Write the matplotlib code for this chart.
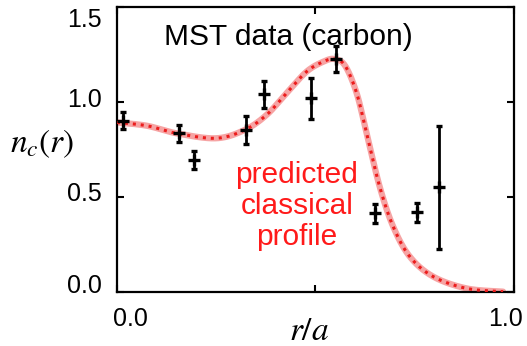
import matplotlib
matplotlib.use("Agg")
import matplotlib.pyplot as plt
import matplotlib.transforms as mtransforms
import numpy as np

plt.rcParams['font.family'] = ['Liberation Sans', 'DejaVu Sans']
plt.rcParams['mathtext.fontset'] = 'stix'

# predicted classical profile
curve_r = [0.0, 0.075, 0.15, 0.25, 0.322, 0.377, 0.427, 0.478, 0.520, 0.548,
           0.575, 0.604, 0.629, 0.662, 0.696, 0.738, 0.797, 0.881, 0.973]
curve_n = [0.892, 0.875, 0.835, 0.809, 0.853, 0.932, 1.046, 1.16, 1.212, 1.226,
           1.19, 1.046, 0.835, 0.554, 0.344, 0.186, 0.081, 0.019, 0.002]

# MST carbon measurements
data_r = [0.016, 0.155, 0.193, 0.324, 0.370, 0.490, 0.553, 0.650, 0.755, 0.811]
data_n = [0.902, 0.835, 0.695, 0.853, 1.040, 1.019, 1.225, 0.414, 0.419, 0.551]
data_err = [0.046, 0.046, 0.048, 0.074, 0.070, 0.107, 0.068, 0.050, 0.048, 0.325]

x_ticks = [0.0, 0.5, 1.0]
x_ticklabels = ['0.0', '', '1.0']
y_ticks = [0.0, 0.5, 1.0, 1.5]
y_ticklabels = ['0.0', '0.5', '1.0', '1.5']


def catmull_rom(xs, ys, n=30):
    # simple Catmull-Rom spline through the read points
    px = np.r_[xs[0], xs, xs[-1]]
    py = np.r_[ys[0], ys, ys[-1]]
    outx, outy = [], []
    t = np.linspace(0, 1, n, endpoint=False)
    for i in range(1, len(px) - 2):
        for p, out in ((px, outx), (py, outy)):
            p0, p1, p2, p3 = p[i - 1], p[i], p[i + 1], p[i + 2]
            out.extend(0.5 * ((2 * p1) + (-p0 + p2) * t +
                              (2 * p0 - 5 * p1 + 4 * p2 - p3) * t ** 2 +
                              (-p0 + 3 * p1 - 3 * p2 + p3) * t ** 3))
    outx.append(xs[-1])
    outy.append(ys[-1])
    return np.array(outx), np.array(outy)


fig = plt.figure(figsize=(5.27, 3.46), dpi=100)
ax = fig.add_axes([0.222, 0.156, 0.753, 0.824])

rr, nn = catmull_rom(curve_r, curve_n)
ax.plot(rr, nn, color='#f6a4a4', lw=4.5, solid_capstyle='round', zorder=2)
ax.plot(rr, nn, color='#ec1c1c', lw=2.2, ls=(0, (1, 1.6)), zorder=3)

ax.errorbar(data_r, data_n, yerr=data_err, fmt='+', color='black',
            ms=9, mew=2.4, elinewidth=2, capsize=2.5, capthick=2, zorder=4)

ax.text(0.433, 1.342, 'MST data (carbon)', fontsize=21.5, ha='center', va='center')
ax.text(0.453, 0.453, 'predicted\nclassical\nprofile', fontsize=21.5,
        color='#ff1a1a', ha='center', va='center', linespacing=1.15)

ax.set_xlim(0, 1)
ax.set_ylim(0, 1.5)
ax.set_xticks(x_ticks)
ax.set_xticklabels(x_ticklabels)
ax.set_yticks(y_ticks)
ax.set_yticklabels(y_ticklabels)
ax.tick_params(direction='in', length=5, width=1.5, labelsize=18, pad=11,
               top=True, right=True)
for s in ax.spines.values():
    s.set_linewidth(1.6)


def nudge(label, dx, dy):
    label.set_transform(label.get_transform() +
                        mtransforms.ScaledTranslation(dx / 100, dy / 100, fig.dpi_scale_trans))


# end labels sit a little inward in the original
xl = ax.get_xticklabels()
nudge(xl[0], 13, 0)
nudge(xl[2], -8, 0)
yl = ax.get_yticklabels()
nudge(yl[0], 0, 9)
nudge(yl[1], 0, 5)
nudge(yl[2], 0, 4)
nudge(yl[3], 0, -11)

ax.set_ylabel(r'$n_c(r)$', fontsize=24, rotation=0, ha='center', va='center')
ax.yaxis.set_label_coords(-0.19, 0.52)
ax.set_xlabel(r'$r/a$', fontsize=24, ha='center', va='center')
ax.xaxis.set_label_coords(0.484, -0.14)

fig.savefig('out.png', dpi=100)
